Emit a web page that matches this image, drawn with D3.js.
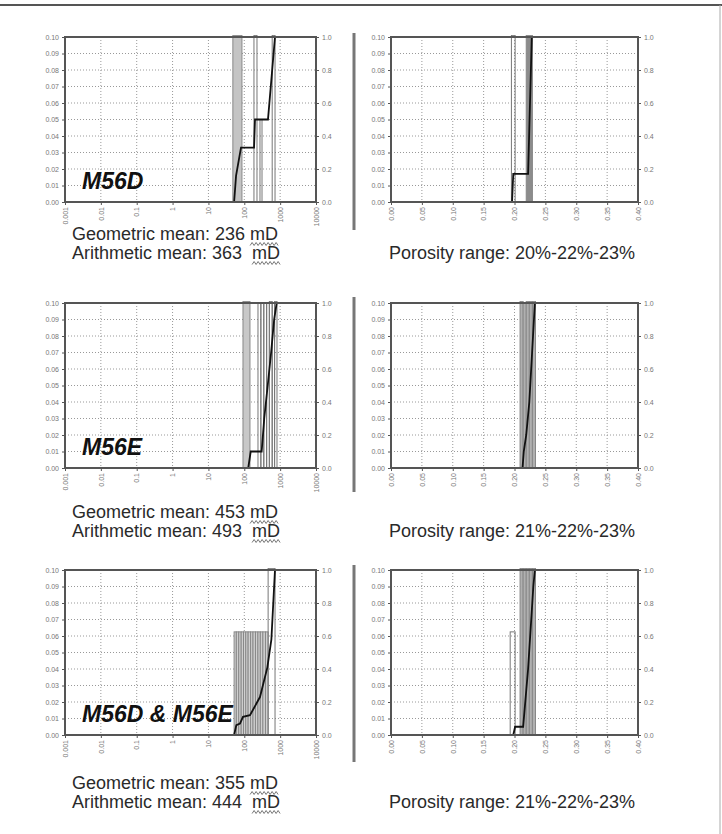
<!DOCTYPE html>
<html>
<head>
<meta charset="utf-8">
<script src="https://cdn.jsdelivr.net/npm/d3@7"></script>
<style>
  body { margin: 0; background: #fff; }
  svg { display: block; }
  text { font-family: "Liberation Sans", Arial, sans-serif; }
</style>
</head>
<body>
<div id="chart"></div>
<script>
// axis ticks
var permTicks = [0.001, 0.01, 0.1, 1, 10, 100, 1000, 10000];
var poroTicks = [0, 0.05, 0.10, 0.15, 0.20, 0.25, 0.30, 0.35, 0.40];
var freqTicks = [0, 0.01, 0.02, 0.03, 0.04, 0.05, 0.06, 0.07, 0.08, 0.09, 0.10];
var cumTicks = [0, 0.2, 0.4, 0.6, 0.8, 1.0];

var zoneNames = ["M56D", "M56E", "M56D & M56E"];
var geoMeans = [236, 453, 355];
var ariMeans = [363, 493, 444];
var poroRanges = ["20%-22%-23%", "21%-22%-23%", "21%-22%-23%"];

// histogram bins: [from, to, frequency]; cumulative: [value, fraction]
var m56dPermShaded = [[48, 86, 0.33]];
var m56dPermOpen = [[186, 226, 0.17], [274, 312, 0.05], [600, 720, 0.17]];
var m56dPermCum = [[52, 0], [59, 0.16], [81, 0.33], [187, 0.33], [199, 0.5], [458, 0.5], [718, 1]];

var m56dPoroShaded = [[0.219, 0.229, 0.33]];
var m56dPoroOpen = [[0.195, 0.201, 0.17]];
var m56dPoroCum = [[0.196, 0], [0.198, 0.17], [0.222, 0.17], [0.228, 1]];

var m56ePermShaded = [[92, 144, 0.2]];
var m56ePermOpen = [[241, 290, 0.1], [290, 350, 0.1], [350, 420, 0.1], [420, 500, 0.1], [500, 600, 0.2], [600, 700, 0.1], [700, 817, 0.2]];
var m56ePermCum = [[129, 0], [151, 0.1], [305, 0.1], [360, 0.3], [450, 0.5], [560, 0.7], [680, 0.9], [800, 1]];

var m56ePoroShaded = [[0.209, 0.214, 0.2], [0.214, 0.219, 0.1], [0.219, 0.224, 0.2], [0.224, 0.229, 0.3], [0.229, 0.234, 0.2]];
var m56ePoroOpen = [];
var m56ePoroCum = [[0.213, 0], [0.215, 0.1], [0.219, 0.2], [0.224, 0.4], [0.227, 0.6], [0.230, 0.8], [0.233, 1]];

var bothPermShaded = [[52, 60, 0.0625], [60, 70, 0.0625], [70, 82, 0.0625], [82, 95, 0.0625], [95, 110, 0.0625], [110, 128, 0.0625],
  [128, 150, 0.0625], [150, 175, 0.0625], [175, 205, 0.0625], [205, 240, 0.0625], [240, 280, 0.0625], [280, 330, 0.0625],
  [330, 390, 0.0625], [390, 462, 0.0625]];
var bothPermOpen = [[462, 720, 0.125]];
var bothPermCum = [[52, 0], [60, 0.06], [76, 0.07], [92, 0.11], [144, 0.12], [274, 0.23], [440, 0.41], [570, 0.58], [718, 1]];

var bothPoroShaded = [[0.209, 0.214, 0.19], [0.214, 0.219, 0.125], [0.219, 0.224, 0.25], [0.224, 0.229, 0.25], [0.229, 0.234, 0.125]];
var bothPoroOpen = [[0.193, 0.201, 0.0625]];
var bothPoroCum = [[0.198, 0], [0.201, 0.05], [0.214, 0.05], [0.222, 0.4], [0.2305, 0.9], [0.233, 1]];

var W = 722, H = 834;
var svg = d3.select("#chart").append("svg").attr("width", W).attr("height", H);

// outer frame
svg.append("line").attr("x1", 0).attr("x2", W).attr("y1", 5).attr("y2", 5)
  .attr("stroke", "#555").attr("stroke-width", 2);
svg.append("line").attr("x1", 720).attr("x2", 720).attr("y1", 5).attr("y2", H)
  .attr("stroke", "#aaa").attr("stroke-width", 1);

var rowTop = [37, 303, 570],
    plotH = 165,
    permX = [65, 316],
    poroX = [391, 638],
    sepY = [[33, 230], [297, 492], [565, 762]],
    geoY = [240, 518, 789],
    ariY = [259, 537, 808];

var permPanels = [
  { shaded: m56dPermShaded, open: m56dPermOpen, cum: m56dPermCum, fill: "#c4c4c4" },
  { shaded: m56ePermShaded, open: m56ePermOpen, cum: m56ePermCum, fill: "#c8c8c8" },
  { shaded: bothPermShaded, open: bothPermOpen, cum: bothPermCum, fill: "#d0d0d0" }
];
var poroPanels = [
  { shaded: m56dPoroShaded, open: m56dPoroOpen, cum: m56dPoroCum, fill: "#8c8c8c" },
  { shaded: m56ePoroShaded, open: m56ePoroOpen, cum: m56ePoroCum, fill: "#b0b0b0" },
  { shaded: bothPoroShaded, open: bothPoroOpen, cum: bothPoroCum, fill: "#b0b0b0" }
];

var clipId = 0;
function drawPanel(x, top, p, xTicks, xFmt) {
  var y = d3.scaleLinear().domain([0, 0.10]).range([top + plotH, top]);
  var yc = d3.scaleLinear().domain([0, 1]).range([top + plotH, top]);
  var x0 = x.range()[0], x1 = x.range()[1];
  var g = svg.append("g");

  // grid
  g.selectAll(".gy").data(freqTicks.slice(1, -1)).join("line")
    .attr("x1", x0).attr("x2", x1).attr("y1", d => y(d)).attr("y2", d => y(d))
    .attr("stroke", "#999").attr("stroke-dasharray", "1,2");
  g.selectAll(".gx").data(xTicks.slice(1, -1)).join("line")
    .attr("x1", d => x(d)).attr("x2", d => x(d)).attr("y1", top).attr("y2", top + plotH)
    .attr("stroke", "#999").attr("stroke-dasharray", "1,2");

  var id = "clip" + (clipId++);
  svg.append("clipPath").attr("id", id).append("rect")
    .attr("x", x0).attr("y", top - 2).attr("width", x1 - x0).attr("height", plotH + 2);
  var plot = g.append("g").attr("clip-path", "url(#" + id + ")");

  function bar(sel, fill, stroke) {
    sel.join("rect")
      .attr("x", d => x(d[0]))
      .attr("width", d => Math.max(1, x(d[1]) - x(d[0])))
      .attr("y", d => y(Math.min(d[2], 0.101)))
      .attr("height", d => y(0) - y(Math.min(d[2], 0.101)))
      .attr("fill", fill).attr("stroke", stroke).attr("stroke-width", 1);
  }
  bar(plot.selectAll(".sh").data(p.shaded), p.fill, "#888");
  bar(plot.selectAll(".op").data(p.open), "none", "#777");

  plot.append("path").datum(p.cum)
    .attr("d", d3.line().x(d => x(d[0])).y(d => yc(d[1])))
    .attr("fill", "none").attr("stroke", "#111").attr("stroke-width", 1.8);

  // frame
  g.append("rect").attr("x", x0).attr("y", top).attr("width", x1 - x0).attr("height", plotH)
    .attr("fill", "none").attr("stroke", "#555").attr("stroke-width", 2);

  // axes
  var ax = g.append("g").attr("transform", "translate(0," + (top + plotH) + ")")
    .call(d3.axisBottom(x).tickValues(xTicks).tickFormat(xFmt).tickSize(3));
  ax.selectAll("text").attr("transform", "rotate(-90)")
    .attr("x", -5).attr("y", 0).attr("dy", "0.32em").style("text-anchor", "end");
  var al = g.append("g").attr("transform", "translate(" + x0 + ",0)")
    .call(d3.axisLeft(y).tickValues(freqTicks).tickFormat(d3.format(".2f")).tickSize(3));
  var ar = g.append("g").attr("transform", "translate(" + x1 + ",0)")
    .call(d3.axisRight(yc).tickValues(cumTicks).tickFormat(d3.format(".1f")).tickSize(3));
  [ax, al, ar].forEach(function(a) {
    a.select(".domain").remove();
    a.selectAll("line").attr("stroke", "#555");
    a.selectAll("text").attr("fill", "#777").style("font-size", "7px").style("font-family", "'Liberation Sans', Arial, sans-serif");
  });
}

function meanText(x, yb, label) {
  var t = svg.append("text").attr("x", x).attr("y", yb)
    .style("font-size", "18px").style("white-space", "pre").attr("fill", "#2a2a2a").text(label);
  var w = t.node().getComputedTextLength();
  var m = svg.append("text").attr("x", x + w).attr("y", yb)
    .style("font-size", "18px").attr("fill", "#2a2a2a").text("mD");
  var mw = m.node().getComputedTextLength();
  var pts = d3.range(0, Math.floor(mw / 2) + 1).map(i => [x + w + i * 2, yb + 4 + (i % 2 ? -1.5 : 1.5)]);
  svg.append("path").attr("d", d3.line()(pts)).attr("fill", "none").attr("stroke", "#777").attr("stroke-width", 1);
}

zoneNames.forEach(function(name, i) {
  var top = rowTop[i];
  var xPerm = d3.scaleLog().domain([0.001, 10000]).range(permX);
  var xPoro = d3.scaleLinear().domain([0, 0.40]).range(poroX);
  drawPanel(xPerm, top, permPanels[i], permTicks, d => d3.format("~f")(d));
  drawPanel(xPoro, top, poroPanels[i], poroTicks, d3.format(".2f"));

  svg.append("text").attr("x", 82).attr("y", top + 152)
    .style("font-size", "23px").style("font-weight", "bold").style("font-style", "italic")
    .attr("fill", "#111").text(name);

  svg.append("line").attr("x1", 354).attr("x2", 354).attr("y1", sepY[i][0]).attr("y2", sepY[i][1])
    .attr("stroke", "#777").attr("stroke-width", 3);

  meanText(72, geoY[i], "Geometric mean: " + geoMeans[i] + " ");
  meanText(72, ariY[i], "Arithmetic mean: " + ariMeans[i] + "  ");
  svg.append("text").attr("x", 389).attr("y", ariY[i])
    .style("font-size", "18px").attr("fill", "#2a2a2a")
    .text("Porosity range: " + poroRanges[i]);
});
</script>
</body>
</html>
